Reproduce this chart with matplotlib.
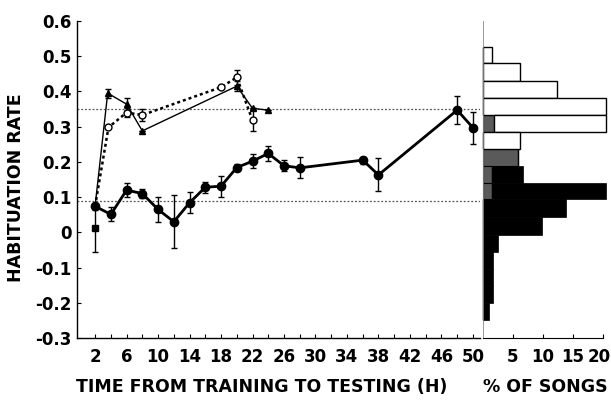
import matplotlib
matplotlib.use("Agg")
import matplotlib.pyplot as plt
import matplotlib.transforms as mtrans
import numpy as np

plt.rcParams['font.family'] = ['DejaVu Sans']
plt.rcParams['font.weight'] = 'bold'

# ---- long-term series (filled circles, thick line)
t_long = [2, 4, 6, 8, 10, 12, 14, 16, 18, 20, 22, 24, 26, 28, 36, 38, 48, 50]
r_long = [0.074, 0.051, 0.12, 0.11, 0.065, 0.03, 0.084, 0.128, 0.131, 0.184,
          0.202, 0.224, 0.189, 0.183, 0.205, 0.163, 0.347, 0.297]
e_long = [0.01, 0.02, 0.02, 0.012, 0.035, 0.075, 0.03, 0.015, 0.03, 0.01,
          0.02, 0.022, 0.015, 0.03, 0.01, 0.047, 0.04, 0.046]

# ---- separate square point at 2 h
t_sq = [2]
r_sq = [0.012]
e_sq = [0.068]

# ---- triangles (thin solid line)
t_tri = [2, 3.6, 6, 8, 20, 22, 24]
r_tri = [0.075, 0.395, 0.364, 0.288, 0.415, 0.352, 0.347]
e_tri = [0, 0.013, 0.018, 0, 0.015, 0.0, 0]

# ---- open circles (dotted line)
t_open = [2, 3.7, 6, 8, 18, 20, 22]
r_open = [0.075, 0.298, 0.34, 0.333, 0.412, 0.44, 0.318]
e_open = [0, 0, 0.012, 0.016, 0, 0.022, 0.03]

# ---- reference levels
ref_levels = [0.35, 0.09]

# ---- histogram (% of songs)
bin_edges = [0.527, 0.48, 0.43, 0.38, 0.333, 0.285, 0.236, 0.188, 0.14,
             0.094, 0.043, -0.008, -0.056, -0.104, -0.152, -0.20, -0.249]
pct_gray = [0, 0, 0, 0, 1.9, 0, 5.9, 1.5, 1.5, 0, 0, 0, 0, 0, 0, 0]
pct_white = [1.5, 6.2, 12.3, 20.5, 18.6, 6.2, 0, 0, 0, 0, 0, 0, 0, 0, 0, 0]
pct_black = [0, 0, 0, 0, 0, 0, 0, 5.2, 19.0, 13.9, 9.8, 2.5, 1.7, 1.7, 1.7, 1.0]

xticks_major = list(range(2, 51, 4))
yticks = [0.6, 0.5, 0.4, 0.3, 0.2, 0.1, 0, -0.1, -0.2, -0.3]
ytick_labels = ['0.6', '0.5', '0.4', '0.3', '0.2', '0.1', '0', '-0.1', '-0.2', '-0.3']
pct_ticks = [5, 10, 15, 20]

W, H = 611, 403
fig = plt.figure(figsize=(W / 100, H / 100), dpi=100)
ax = fig.add_axes([77 / W, 1 - 338 / H, (480 - 77) / W, (338 - 21) / H])
axh = fig.add_axes([483 / W, 1 - 338 / H, (603 - 483) / W, (338 - 21) / H])

FS = 12
LFS = 12.5

for lv in ref_levels:
    ax.axhline(lv, color='#555555', lw=0.9, ls=(0, (1.5, 1.5)), zorder=1)

# long series
ax.errorbar(t_long, r_long, yerr=e_long, color='black', lw=2.0, marker='o',
            ms=6, mfc='black', mec='black', ecolor='black', elinewidth=1.0,
            capsize=2.5, capthick=1.0, zorder=4)
ax.errorbar(t_sq, r_sq, yerr=e_sq, color='black', lw=0, marker='s', ms=5,
            ecolor='black', elinewidth=1.0, capsize=2.5, capthick=1.0, zorder=4)
# triangles
ax.errorbar(t_tri, r_tri, yerr=e_tri, color='black', lw=1.0, marker='^',
            ms=5, mfc='black', mec='black', ecolor='black', elinewidth=1.0,
            capsize=2.5, capthick=1.0, zorder=3, markevery=list(range(1, len(t_tri))))
# open circles
ax.errorbar(t_open, r_open, yerr=e_open, color='black', lw=1.8, ls=(0, (1.2, 1.2)),
            marker='o', ms=5, mfc='white', mec='black', mew=1.0,
            ecolor='black', elinewidth=1.0, capsize=2.5, capthick=1.0, zorder=3,
            markevery=list(range(1, len(t_open))))

ax.set_xlim(-0.3, 50.9)
ax.set_ylim(-0.3, 0.6)
ax.set_xticks(list(range(2, 51, 2)))
ax.set_xticklabels([str(v) if v in xticks_major else '' for v in range(2, 51, 2)])
ax.set_yticks(yticks)
ax.set_yticklabels(ytick_labels)
ax.tick_params(direction='in', length=3, width=0.8, labelsize=FS, pad=4)
ax.tick_params(axis='x', pad=7)
for s in ['top', 'right']:
    ax.spines[s].set_visible(False)
for s in ['left', 'bottom']:
    ax.spines[s].set_linewidth(1.0)
for lbl in ax.get_xticklabels() + ax.get_yticklabels():
    lbl.set_fontweight('bold')

fig.text(262 / W, 1 - 387 / H, 'TIME FROM TRAINING TO TESTING (H)', fontsize=LFS,
         fontweight='bold', ha='center', va='center')
fig.text(16 / W, 1 - 188 / H, 'HABITUATION RATE', rotation=90, fontsize=LFS,
         fontweight='bold', ha='center', va='center')
fig.text(545 / W, 1 - 387 / H, '% OF SONGS', fontsize=LFS,
         fontweight='bold', ha='center', va='center')

# histogram
lows = bin_edges[1:]
highs = bin_edges[:-1]
heights = [h - l for h, l in zip(highs, lows)]
g = np.array(pct_gray)
w = np.array(pct_white)
b = np.array(pct_black)
axh.barh(lows, g, height=heights, align='edge', color='#5a5a5a',
         edgecolor='black', lw=0.8, clip_on=False, zorder=2)
axh.barh(lows, w, left=g, height=heights, align='edge', color='white',
         edgecolor='black', lw=1.0, clip_on=False, zorder=2)
axh.barh(lows, b, left=g, height=heights, align='edge', color='black',
         edgecolor='black', lw=0.5, clip_on=False, zorder=2)
axh.axhline(0.09, xmax=0.02, color='#555555', lw=0.9, ls=(0, (1.5, 1.5)), zorder=1)

axh.set_xlim(0, 20)
axh.set_ylim(-0.3, 0.6)
axh.set_yticks([])
axh.set_xticks(pct_ticks)
axh.tick_params(direction='in', length=3, width=0.8, labelsize=FS, pad=7)
for lbl in axh.get_xticklabels():
    lbl.set_fontweight('bold')
last = axh.get_xticklabels()[-1]
last.set_transform(last.get_transform() + mtrans.ScaledTranslation(-4 / 100, 0, fig.dpi_scale_trans))
for s in ['top', 'right']:
    axh.spines[s].set_visible(False)
axh.spines['left'].set_linewidth(0.6)
axh.spines['left'].set_color('#888888')

fig.savefig('out.png', dpi=100)
